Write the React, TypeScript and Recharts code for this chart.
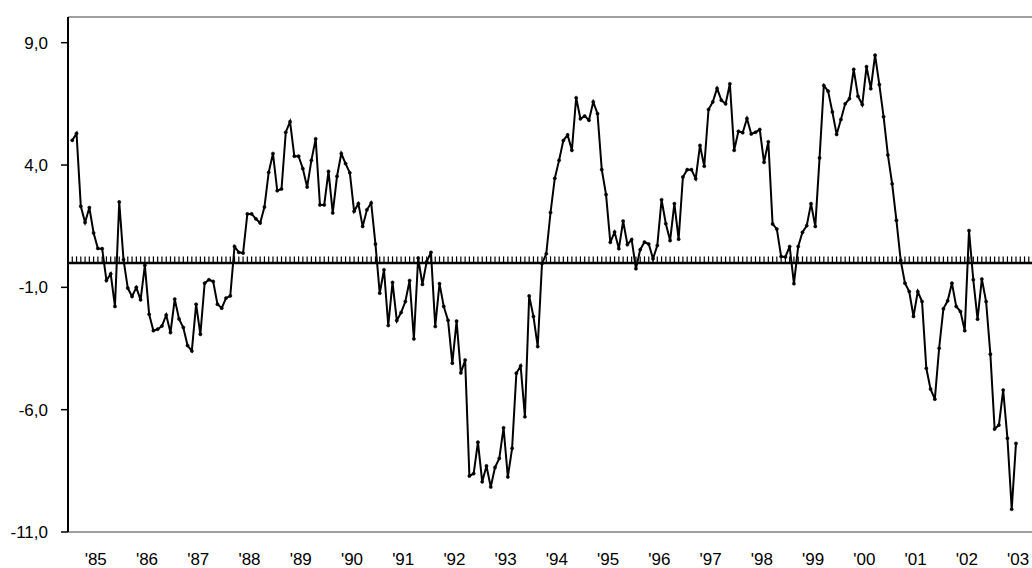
import { ComposedChart, Line, Scatter, XAxis, YAxis, ReferenceLine } from "recharts";

// monthly values, first point mid-1984, last early 2003
const values = [
  5.01, 5.29, 2.31, 1.65, 2.26, 1.22, 0.59, 0.58, -0.72, -0.45,
  -1.78, 2.49, 0.13, -1.03, -1.37, -1.0, -1.51, -0.1, -2.1, -2.77,
  -2.71, -2.58, -2.13, -2.85, -1.48, -2.29, -2.64, -3.38, -3.6, -1.69,
  -2.92, -0.83, -0.69, -0.76, -1.69, -1.85, -1.44, -1.35, 0.67, 0.43,
  0.4, 2.0, 2.0, 1.8, 1.63, 2.28, 3.7, 4.47, 2.95, 3.02,
  5.34, 5.77, 4.36, 4.36, 3.85, 3.1, 4.19, 5.07, 2.37, 2.37,
  3.74, 2.04, 3.54, 4.47, 4.06, 3.68, 2.11, 2.42, 1.49, 2.17,
  2.45, 0.77, -1.24, -0.28, -2.56, -0.8, -2.36, -2.03, -1.58, -0.72,
  -3.11, 0.2, -0.88, 0.05, 0.43, -2.6, -0.85, -1.78, -2.35, -4.1,
  -2.38, -4.5, -3.97, -8.71, -8.61, -7.33, -8.95, -8.3, -9.16, -8.36,
  -7.99, -6.74, -8.75, -7.58, -4.51, -4.21, -6.29, -1.35, -2.19, -3.42,
  -0.03, 0.37, 2.06, 3.46, 4.19, 5.0, 5.23, 4.6, 6.75, 5.89,
  6.0, 5.83, 6.58, 6.1, 3.81, 2.79, 0.84, 1.26, 0.58, 1.71,
  0.75, 0.95, -0.24, 0.54, 0.85, 0.77, 0.17, 0.71, 2.58, 1.6,
  0.91, 2.42, 0.97, 3.51, 3.81, 3.81, 3.44, 4.8, 3.95, 6.27,
  6.58, 7.13, 6.65, 6.5, 7.32, 4.6, 5.38, 5.32, 5.9, 5.27,
  5.34, 5.45, 4.11, 4.95, 1.59, 1.38, 0.26, 0.24, 0.67, -0.85,
  0.67, 1.25, 1.52, 2.42, 1.49, 4.29, 7.25, 7.02, 6.17, 5.25,
  5.86, 6.5, 6.71, 7.91, 6.81, 6.47, 8.02, 7.12, 8.49, 7.29,
  5.97, 4.41, 3.23, 1.74, 0.1, -0.83, -1.17, -2.19, -1.17, -1.58,
  -4.31, -5.16, -5.57, -3.49, -1.88, -1.55, -0.83, -1.78, -1.99, -2.77,
  1.32, -0.69, -2.3, -0.66, -1.58, -3.73, -6.79, -6.63, -5.2, -7.17,
  -10.07, -7.38,
];

const yearLabels = [
  "'85", "'86", "'87", "'88", "'89", "'90", "'91", "'92", "'93", "'94",
  "'95", "'96", "'97", "'98", "'99", "'00", "'01", "'02", "'03",
];

const yTicks = [-11, -6, -1, 4, 9];

const data = values.map((v, i) => ({ i, v }));
// small month tick marks along the zero line
const zeroTicks = Array.from({ length: 225 }, (_, i) => ({ i, v: 0 }));
const yearTicks = yearLabels.map((_, k) => 5.5 + 12 * k);

const font = "'Liberation Sans', Arial, sans-serif";

export default function App() {
  return (
    <div style={{ position: "absolute", left: 0, top: 0, background: "#fff" }}>
      <ComposedChart width={1032} height={568} margin={{ top: 17, right: 0, bottom: 0, left: 0 }}>
        <XAxis
          type="number"
          dataKey="i"
          domain={[-1, 224.75]}
          ticks={yearTicks}
          tickFormatter={(t: number) => yearLabels[Math.round((t - 5.5) / 12)]}
          interval={0}
          height={36}
          axisLine={{ stroke: "#808080", strokeWidth: 1.5 }}
          tickLine={false}
          tickSize={6}
          tickMargin={15}
          tick={{ fontSize: 17, fill: "#000", fontFamily: font }}
          allowDataOverflow
        />
        <YAxis
          type="number"
          domain={[-11, 10.05]}
          ticks={yTicks}
          width={68}
          axisLine={{ stroke: "#000", strokeWidth: 2 }}
          tickLine={{ stroke: "#000", strokeWidth: 1.5 }}
          tickSize={7}
          tickMargin={13}
          tickFormatter={(v: number) => v.toFixed(1).replace(".", ",")}
          tick={{ fontSize: 17, fill: "#000", fontFamily: font }}
          allowDataOverflow
        />
        <ReferenceLine y={10.05} stroke="#808080" strokeWidth={1.5} />
        <ReferenceLine y={0} stroke="#000" strokeWidth={2.5} />
        <Scatter
          data={zeroTicks}
          dataKey="v"
          isAnimationActive={false}
          shape={(p: any) => (
            <line x1={p.cx} x2={p.cx} y1={p.cy - 6.5} y2={p.cy} stroke="#000" strokeWidth={1.2} />
          )}
        />
        <Line
          data={data}
          dataKey="v"
          type="linear"
          stroke="#000"
          strokeWidth={2}
          dot={{ r: 1.6, fill: "#000", stroke: "#000", strokeWidth: 0.5 }}
          isAnimationActive={false}
        />
      </ComposedChart>
    </div>
  );
}
